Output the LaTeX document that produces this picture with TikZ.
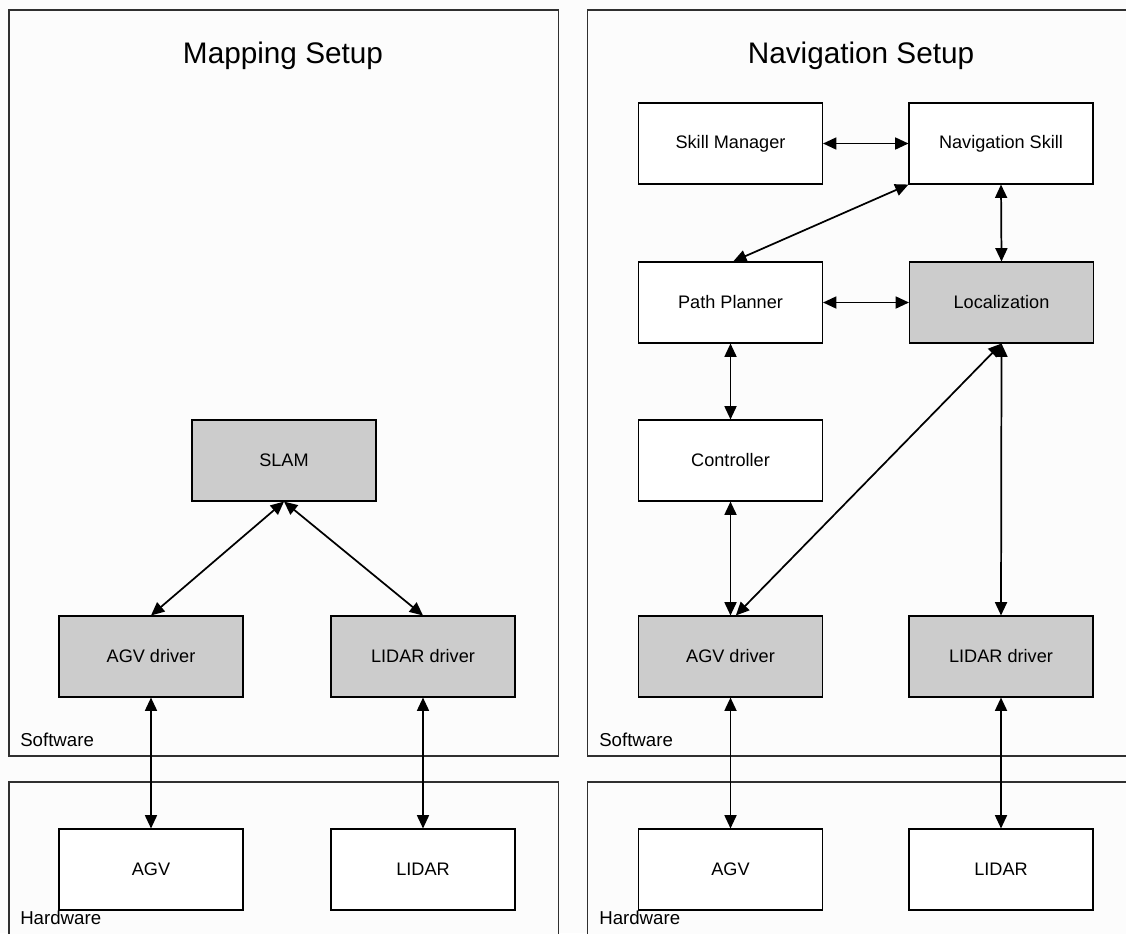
\documentclass[tikz,border=0pt]{standalone}
\usepackage{fontspec}
\setmainfont{Liberation Sans}
\usetikzlibrary{arrows.meta}
\definecolor{pagebg}{HTML}{FCFCFC}
\definecolor{compgray}{HTML}{CCCCCC}
\definecolor{framecol}{HTML}{303030}
\tikzset{
  panel/.style={draw=framecol, line width=0.8pt, fill=pagebg},
  comp/.style={draw=black, line width=0.8pt, fill=white, inner sep=0pt,
    minimum width=138pt, minimum height=60.75pt, font=\fontsize{13.6}{16}\selectfont},
  gcomp/.style={comp, fill=compgray},
  link/.style={line width=1.3pt, {Triangle[length=10pt,width=9pt]}-{Triangle[length=10pt,width=9pt]}},
  paneltitle/.style={font=\fontsize{22.3}{26}\selectfont, inner sep=0pt, anchor=base},
  layerlabel/.style={font=\fontsize{14}{16}\selectfont, anchor=base west, inner sep=0pt}
}
\begin{document}
\begin{tikzpicture}[x=0.75pt,y=-0.75pt]
\useasboundingbox (0,0) rectangle (1126,933);
\fill[pagebg] (0,0) rectangle (1126,933);

% layer frames
\draw[panel] (9,10) rectangle (558.7,756);
\draw[panel] (9,782) rectangle (558.7,950);
\draw[panel] (587.7,10) rectangle (1140,756);
\draw[panel] (587.7,782) rectangle (1140,950);

% titles and layer labels
\node[paneltitle] (tmap) at (283,63) {Mapping Setup};
\node[paneltitle] (tnav) at (861,63) {Navigation Setup};
\node[layerlabel] (swL) at (20,746) {Software};
\node[layerlabel] (hwL) at (20,924) {Hardware};
\node[layerlabel] (swR) at (599,746) {Software};
\node[layerlabel] (hwR) at (599,924) {Hardware};

% mapping setup components
\node[gcomp] (slam)    at (284,460.5) {SLAM};
\node[gcomp] (agvdL)   at (151,656.5) {AGV driver};
\node[gcomp] (lidardL) at (423,656.5) {LIDAR driver};
\node[comp]  (agvL)    at (151,869.5) {AGV};
\node[comp]  (lidarL)  at (423,869.5) {LIDAR};

% navigation setup components
\node[comp]  (skill)    at (730.5,143.5) {Skill Manager};
\node[comp]  (navskill) at (1001,143.5) {Navigation Skill};
\node[comp]  (planner)  at (730.5,302.5) {Path Planner};
\node[gcomp] (loc)      at (1001.5,302.5) {Localization};
\node[comp]  (ctrl)     at (730.5,460.5) {Controller};
\node[gcomp] (agvdR)    at (730.5,656.5) {AGV driver};
\node[gcomp] (lidardR)  at (1001,656.5) {LIDAR driver};
\node[comp]  (agvR)     at (730.5,869.5) {AGV};
\node[comp]  (lidarR)   at (1001,869.5) {LIDAR};

% mapping links
\draw[link] (slam.south) -- (agvdL.north);
\draw[link] (slam.south) -- (lidardL.north);
\draw[link] (agvdL.south) -- (agvL.north);
\draw[link] (lidardL.south) -- (lidarL.north);

% navigation links
\draw[link] (skill.east) -- (navskill.west);
\draw[link] (navskill.south west) -- ([xshift=2pt]planner.north);
\draw[link] (navskill.south) -- (loc.north);
\draw[link] (planner.east) -- (loc.west);
\draw[link] (planner.south) -- (ctrl.north);
\draw[link] (ctrl.south) -- (agvdR.north);
\draw[link] (loc.south) -- ([xshift=4pt]agvdR.north);
\draw[link] (loc.south) -- (lidardR.north);
\draw[link] (agvdR.south) -- (agvR.north);
\draw[link] (lidardR.south) -- (lidarR.north);
\end{tikzpicture}
\end{document}
